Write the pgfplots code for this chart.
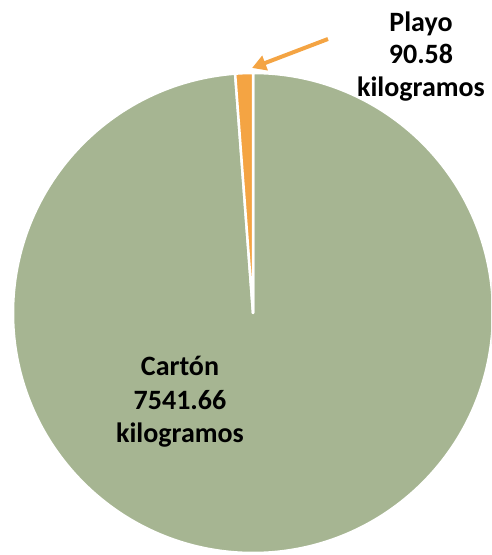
\documentclass[border=0pt]{standalone}
\usepackage{pgfplots}
\pgfplotsset{compat=1.18}
\usepackage{pgfplotstable}
\usetikzlibrary{arrows.meta}
\usepackage{fontspec}
\setmainfont{Carlito}

\definecolor{carton}{HTML}{A6B592}
\definecolor{playo}{HTML}{F4A443}

\pgfplotstableread{
material value
Carton 7541.66
Playo 90.58
}\pesos

\begin{document}
\begin{tikzpicture}
\pgfplotstablegetelem{0}{value}\of\pesos \let\vcarton\pgfplotsretval
\pgfplotstablegetelem{1}{value}\of\pesos \let\vplayo\pgfplotsretval
\pgfmathsetmacro{\angcarton}{360/(1+\vplayo/\vcarton)}
\pgfmathsetmacro{\endcarton}{90-\angcarton}
\begin{axis}[
    hide axis,
    scale only axis,
    width=491pt, height=555pt,
    xmin=0, xmax=491,
    ymin=0, ymax=555,
    clip=true,
]
\coordinate (bl) at (rel axis cs:0,0);
\coordinate (tr) at (rel axis cs:1,1);

% pie, clockwise from 12 o'clock as in Excel
\fill[carton, draw=white, line width=2.5pt, line join=round]
    (axis cs:253,242) -- ++(90:240) arc[start angle=90, end angle=\endcarton, radius=240] -- cycle;
\fill[playo, draw=white, line width=2.5pt, line join=round]
    (axis cs:253,242) -- ++(\endcarton:240) arc[start angle=\endcarton, end angle=-270, radius=240] -- cycle;

\draw[playo, line width=4pt, -{Triangle[length=14pt,width=15pt]}]
    (axis cs:328,516) -- (axis cs:252,487);

\begin{scope}[every node/.style={anchor=base, font=\fontsize{28}{34}\selectfont\bfseries, inner sep=0pt}]
\node at (axis cs:421,523) {Playo};
\node at (axis cs:421,491) {90.58};
\node at (axis cs:421,458) {kilogramos};
\node at (axis cs:180,179) {Cartón};
\node at (axis cs:180,145) {7541.66};
\node at (axis cs:180,112) {kilogramos};
\end{scope}
\end{axis}
\pgfresetboundingbox
\useasboundingbox (bl) rectangle (tr);
\end{tikzpicture}
\end{document}
